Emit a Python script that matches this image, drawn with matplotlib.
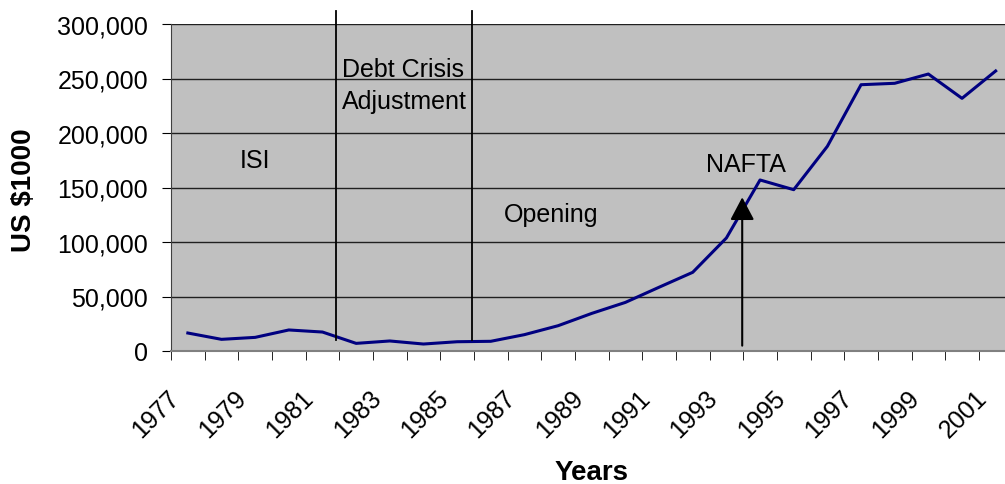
import matplotlib
matplotlib.use("Agg")
import matplotlib.pyplot as plt
import matplotlib.transforms as mtransforms
import numpy as np

years = list(range(1977, 2002))
values = [16500, 10700, 12500, 19300, 17400, 7000, 9200, 6400, 8500, 8900,
          15000, 23200, 34500, 44600, 58500, 72200, 103700, 156900, 148000,
          187800, 244300, 245600, 254100, 231800, 256900]
period_bounds = [1981.39, 1985.45]
nafta_year = 1993.47
period_labels = ["ISI", "Debt Crisis\nAdjustment", "Opening", "NAFTA"]

plt.rcParams['font.family'] = ['Liberation Sans', 'DejaVu Sans']

fig = plt.figure(figsize=(10.05, 4.85), dpi=100)
ax = fig.add_axes([171/1005, 1-352/485, (1012.5-171)/1005, 327/485])
ax.set_facecolor('#C0C0C0')

x = np.arange(len(years))
def yx(yr):
    return yr - years[0]

ax.plot(x, values, color='#000080', lw=2.2, zorder=3, clip_on=False)
ax.set_xlim(-0.5, len(years) - 0.5)
ax.set_ylim(0, 300000)
ax.set_yticks(np.arange(0, 300001, 50000))
ax.set_yticklabels([f"{v:,}" for v in range(0, 300001, 50000)], fontsize=18)
ax.yaxis.grid(True, color='#202020', lw=1)
ax.set_axisbelow(True)

ax.set_xticks(x[::2])
ax.set_xticklabels([str(y) for y in years[::2]], fontsize=18, rotation=45,
                   ha='right', va='center', rotation_mode='anchor')
ax.set_xticks(np.arange(-0.5, len(years)), minor=True)
ax.tick_params(axis='x', which='major', length=0, pad=22)
ax.tick_params(axis='x', which='minor', length=6.5, color='black')
ax.tick_params(axis='y', length=6.5, color='black', pad=10)
offset = mtransforms.ScaledTranslation(-12.5/100, -12.5/100, fig.dpi_scale_trans)
for lab in ax.get_xticklabels():
    lab.set_transform(lab.get_transform() + offset)

for s in ['top', 'right']:
    ax.spines[s].set_visible(False)
ax.spines['left'].set_color('#404040')
ax.spines['bottom'].set_color('#808080')
ax.spines['bottom'].set_linewidth(1.5)

for b in period_bounds:
    ax.plot([yx(b), yx(b)], [10000, 312000], color='black', lw=1.3, clip_on=False, zorder=4)

ax.annotate('', xy=(yx(nafta_year), 141000), xytext=(yx(nafta_year), 4900),
            arrowprops=dict(arrowstyle='-|>,head_length=1.4,head_width=0.74',
                            color='black', lw=1.5, shrinkA=0, shrinkB=0), zorder=5)

ax.text(yx(1979), 168500, period_labels[0], fontsize=18, ha='center', va='baseline')
line1, line2 = period_labels[1].split('\n')
ax.text(yx(1981.58), 252000, line1, fontsize=18, ha='left', va='baseline')
ax.text(yx(1981.58), 222700, line2, fontsize=18, ha='left', va='baseline')
ax.text(yx(1987.8), 119500, period_labels[2], fontsize=18, ha='center', va='baseline')
ax.text(yx(1993.59), 165400, period_labels[3], fontsize=18, ha='center', va='baseline')

fig.text(24/1005, 1-190/485, 'US $1000', rotation=90, fontsize=20, fontweight='bold',
         ha='center', va='center')
fig.text(592/1005, 1-480/485, 'Years', fontsize=20, fontweight='bold',
         ha='center', va='baseline')

fig.savefig('out.png', dpi=100)
